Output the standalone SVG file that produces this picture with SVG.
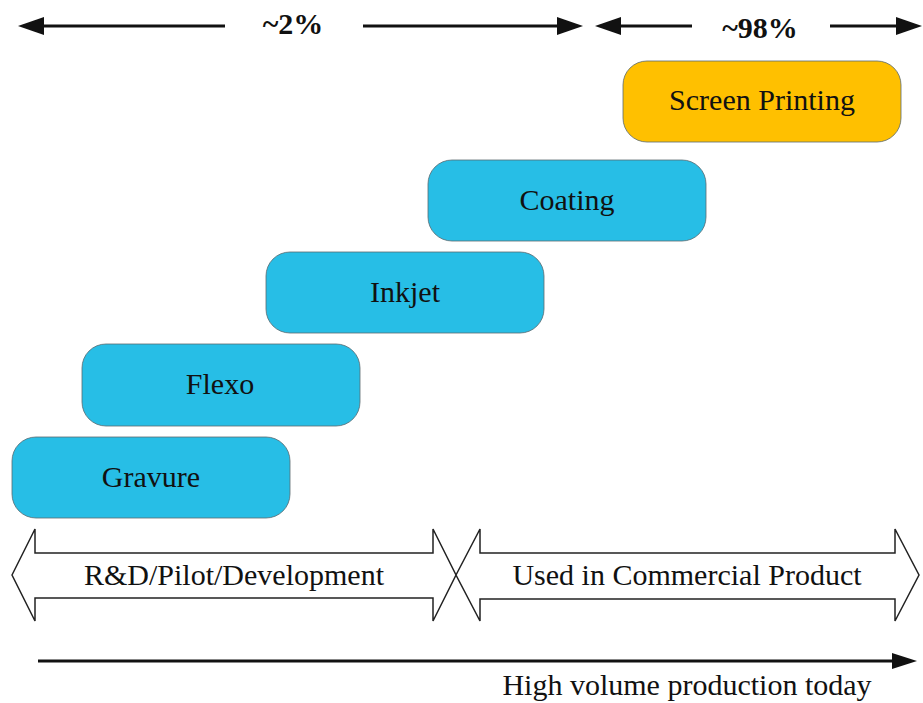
<svg xmlns="http://www.w3.org/2000/svg" width="923" height="703" viewBox="0 0 923 703">
<defs>
<style>
.box{stroke:#5a6a70;stroke-width:0.8}
.blue{fill:#27BEE6}
.gold{fill:#FFC000}
.lbl{font-family:"Liberation Serif","Times New Roman",serif;font-size:30px;fill:#111;text-anchor:middle}
.pct{font-family:"Liberation Serif","Times New Roman",serif;font-size:30px;font-weight:bold;fill:#111;text-anchor:middle}
.ln{stroke:#111;stroke-width:3;fill:none}
.hd{fill:#111}
.blk{fill:#fff;stroke:#222;stroke-width:1.5;stroke-linejoin:miter}
</style>
</defs>
<rect x="0" y="0" width="923" height="703" fill="#fff"/>
<g id="connectors">
<line class="ln" x1="42" y1="26" x2="225" y2="26"/>
<polygon class="hd" points="18,26 44,17 44,35"/>
<line class="ln" x1="363" y1="26" x2="559" y2="26"/>
<polygon class="hd" points="583,26 557,17 557,35"/>
<line class="ln" x1="619" y1="26" x2="692" y2="26"/>
<polygon class="hd" points="595,26 621,17 621,35"/>
<line class="ln" x1="830" y1="26" x2="898" y2="26"/>
<polygon class="hd" points="922,26 896,17 896,35"/>
<line class="ln" x1="38" y1="661" x2="894" y2="661"/>
<polygon class="hd" points="917,661 892,653 892,669"/>
</g>
<g id="pct2"><text class="pct" x="293" y="34">~2%</text></g>
<g id="pct98"><text class="pct" x="760" y="38">~98%</text></g>
<g id="screen"><rect class="box gold" x="623" y="61" width="278" height="81" rx="24"/><text class="lbl" x="762" y="110">Screen Printing</text></g>
<g id="coating"><rect class="box blue" x="428" y="160" width="278" height="81" rx="24"/><text class="lbl" x="567" y="210">Coating</text></g>
<g id="inkjet"><rect class="box blue" x="266" y="252" width="278" height="81" rx="24"/><text class="lbl" x="405" y="302">Inkjet</text></g>
<g id="flexo"><rect class="box blue" x="82" y="344" width="278" height="82" rx="24"/><text class="lbl" x="220" y="394">Flexo</text></g>
<g id="gravure"><rect class="box blue" x="12" y="437" width="278" height="81" rx="24"/><text class="lbl" x="151" y="487">Gravure</text></g>
<g id="rnd">
<path class="blk" d="M12,575 L35,529 L35,553 L433,553 L433,529 L456,575 L433,621 L433,598 L35,598 L35,621 Z"/>
<text class="lbl" x="234" y="585">R&amp;D/Pilot/Development</text>
</g>
<g id="commercial">
<path class="blk" d="M456,575 L480,529 L480,553 L895,553 L895,529 L919,575 L895,621 L895,599 L480,599 L480,621 Z"/>
<text class="lbl" x="687" y="585">Used in Commercial Product</text>
</g>
<g id="hv"><text class="lbl" x="687" y="695">High volume production today</text></g>
</svg>
